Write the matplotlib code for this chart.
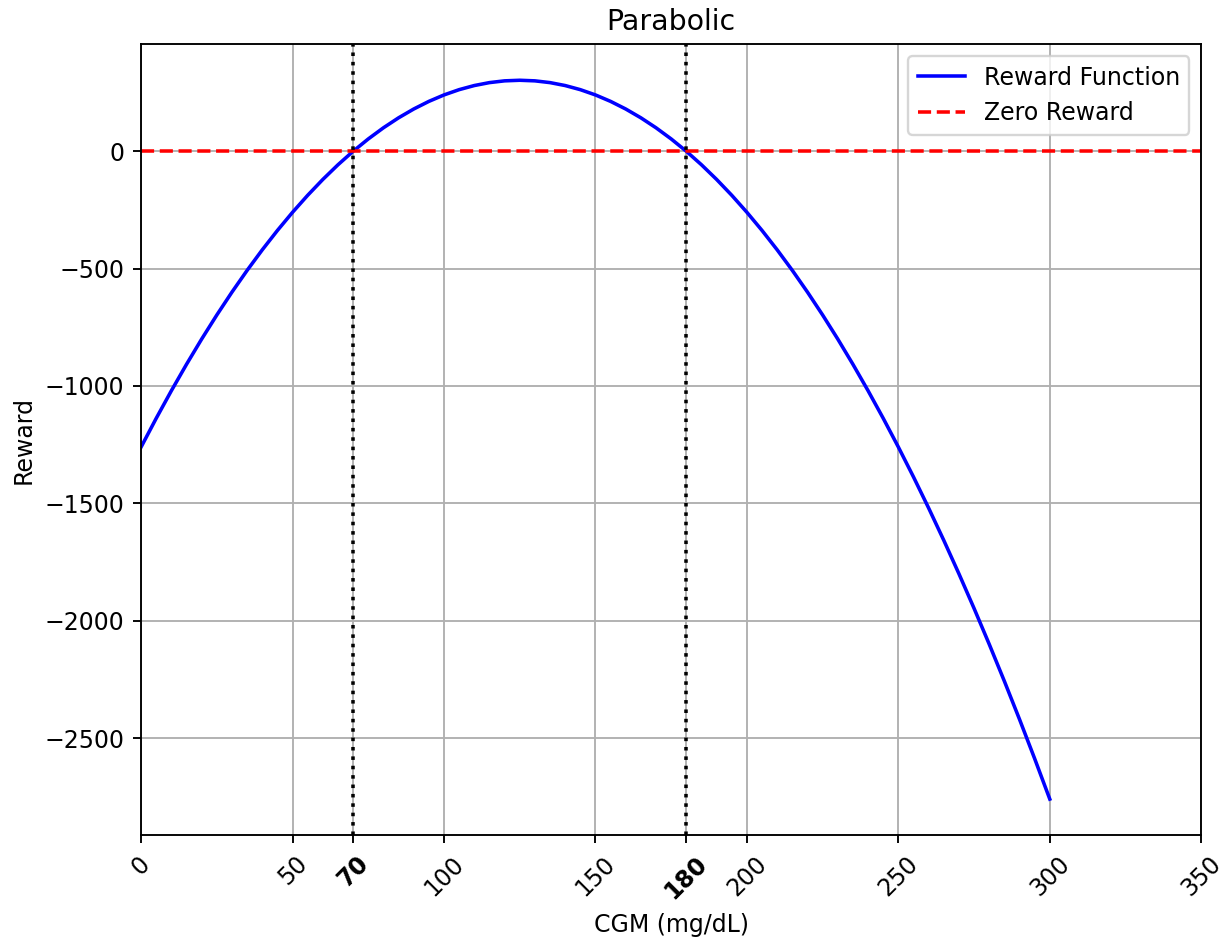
import numpy as np
import matplotlib.pyplot as plt

# CGM values (mg/dL) and reward
cgm = [0, 5, 10, 15, 20, 25, 30, 35, 40, 45, 50, 55, 60, 65, 70, 75, 80, 85, 90, 95,
       100, 105, 110, 115, 120, 125, 130, 135, 140, 145, 150, 155, 160, 165, 170, 175,
       180, 185, 190, 195, 200, 205, 210, 215, 220, 225, 230, 235, 240, 245, 250, 255,
       260, 265, 270, 275, 280, 285, 290, 295, 300]
reward = [-1260, -1137.5, -1020, -907.5, -800, -697.5, -600, -507.5, -420, -337.5,
          -260, -187.5, -120, -57.5, 0, 52.5, 100, 142.5, 180, 212.5,
          240, 262.5, 280, 292.5, 300, 302.5, 300, 292.5, 280, 262.5,
          240, 212.5, 180, 142.5, 100, 52.5, 0, -57.5, -120, -187.5,
          -260, -337.5, -420, -507.5, -600, -697.5, -800, -907.5, -1020, -1137.5,
          -1260, -1387.5, -1520, -1657.5, -1800, -1947.5, -2100, -2257.5, -2420, -2587.5,
          -2760]

bounds = [70, 180]
xticks = [0, 50, 70, 100, 150, 180, 200, 250, 300, 350]

dpi = 170
fig = plt.figure(figsize=(1227 / dpi, 943 / dpi), dpi=dpi)
ax = fig.add_axes([0.115, 0.1145, 0.864, 0.8385])

ax.plot(cgm, reward, color='blue', label='Reward Function')
ax.axhline(0, color='red', linestyle='--', label='Zero Reward')
for b in bounds:
    ax.axvline(b, color='black', linestyle=':')

ax.set_xlim(0, 350)
ax.set_xticks(xticks)
ax.set_xticklabels([str(t) for t in xticks], rotation=45)
for lbl, t in zip(ax.get_xticklabels(), xticks):
    if t in bounds:
        lbl.set_fontweight('bold')

ax.set_title('Parabolic')
ax.set_xlabel('CGM (mg/dL)')
ax.set_ylabel('Reward')
ax.grid(True)
ax.legend(loc='upper right')

fig.savefig('out.png', dpi=dpi)
